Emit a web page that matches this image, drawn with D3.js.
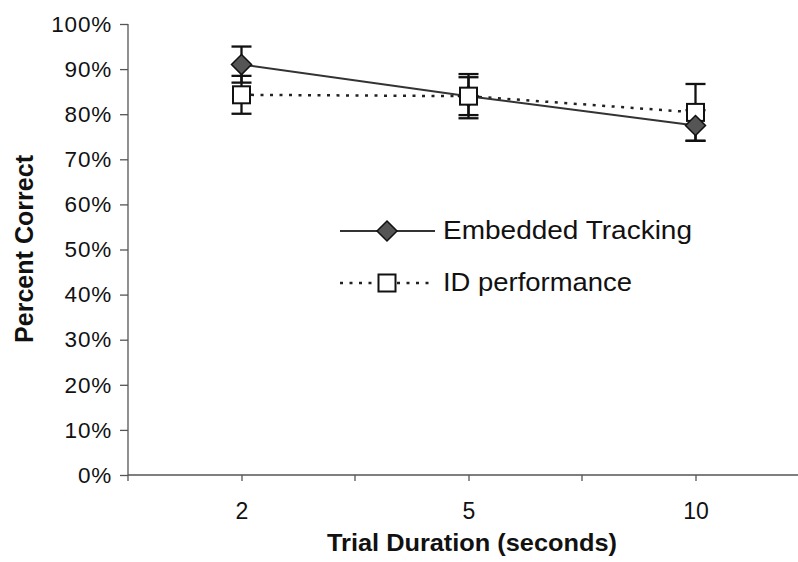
<!DOCTYPE html>
<html><head><meta charset="utf-8">
<script src="https://cdn.jsdelivr.net/npm/d3@7"></script>
<style>body{margin:0;background:#fff}svg{display:block}</style>
</head><body>
<script>
const categories = ["2", "5", "10"];
const embedded = [91.0, 84.0, 77.5];
const embeddedErr = [4.0, 4.9, 3.4];
const idPerf = [84.3, 84.0, 80.4];
const idErr = [4.2, 4.2, 6.3];
const yTicks = [0,10,20,30,40,50,60,70,80,90,100];

const W = 798, H = 562;
const svg = d3.select("body").append("svg").attr("width", W).attr("height", H);
const x = d3.scalePoint().domain(categories).range([128, 809]).padding(0.5);
const y = d3.scaleLinear().domain([0, 100]).range([475, 24]);
const font = "'Liberation Sans', Arial, sans-serif";

// y axis
const ya = svg.append("g").attr("transform", "translate(128,0)")
  .call(d3.axisLeft(y).tickValues(yTicks).tickFormat(d => d + "%").tickSize(8).tickPadding(8));
ya.select(".domain").attr("stroke", "#555").attr("stroke-width", 1.3).attr("d", "M0,24V475");
ya.selectAll(".tick line").attr("stroke", "#555").attr("stroke-width", 1.3);
ya.selectAll("text").attr("font-family", font).attr("font-size", 22.5)
  .attr("letter-spacing", 0.8).attr("fill", "#111");

// x axis
const xa = svg.append("g").attr("transform", "translate(0,475)")
  .call(d3.axisBottom(x).tickSize(6).tickPadding(22));
xa.select(".domain").attr("stroke", "#555").attr("stroke-width", 1.3).attr("d", "M128,0H798");
xa.selectAll(".tick line").attr("stroke", "#555").attr("stroke-width", 1.3);
xa.selectAll("text").attr("font-family", font).attr("font-size", 23).attr("fill", "#111");
const step = x.step();
xa.selectAll(".bt").data(d3.range(0, 4)).join("line").attr("class", "bt")
  .attr("x1", i => x(categories[0]) - step / 2 + i * step)
  .attr("x2", i => x(categories[0]) - step / 2 + i * step)
  .attr("y1", 0).attr("y2", 6).attr("stroke", "#555").attr("stroke-width", 1.3);

// titles
svg.append("text").attr("x", 472).attr("y", 551).attr("text-anchor", "middle")
  .attr("font-family", font).attr("font-weight", "bold").attr("font-size", 24)
  .attr("textLength", 290).attr("lengthAdjust", "spacingAndGlyphs")
  .attr("fill", "#111").text("Trial Duration (seconds)");
svg.append("text").attr("transform", "translate(33,249) rotate(-90)").attr("text-anchor", "middle")
  .attr("font-family", font).attr("font-weight", "bold").attr("font-size", 25)
  .attr("textLength", 188).attr("lengthAdjust", "spacingAndGlyphs")
  .attr("fill", "#111").text("Percent Correct");

const line = d3.line().x((d, i) => x(categories[i])).y(d => y(d));

// ID performance line (dotted)
svg.append("path").datum(idPerf).attr("d", line).attr("fill", "none")
  .attr("stroke", "#222").attr("stroke-width", 2.5).attr("stroke-dasharray", "3,6.5");
// Embedded line
svg.append("path").datum(embedded).attr("d", line).attr("fill", "none")
  .attr("stroke", "#333").attr("stroke-width", 2);

function errBars(vals, errs) {
  const g = svg.append("g").attr("stroke", "#111").attr("stroke-width", 2.3);
  vals.forEach((v, i) => {
    const cx = x(categories[i]);
    g.append("line").attr("x1", cx).attr("x2", cx).attr("y1", y(v + errs[i])).attr("y2", y(v - errs[i]));
    [v + errs[i], v - errs[i]].forEach(e => {
      g.append("line").attr("x1", cx - 10).attr("x2", cx + 10).attr("y1", y(e)).attr("y2", y(e));
    });
  });
}
errBars(embedded, embeddedErr);
errBars(idPerf, idErr);

function diamond(g, cx, cy) {
  g.append("path").attr("d", `M${cx},${cy - 10}L${cx + 10},${cy}L${cx},${cy + 10}L${cx - 10},${cy}Z`)
    .attr("fill", "#555").attr("stroke", "#111").attr("stroke-width", 1.5);
}
function square(g, cx, cy) {
  g.append("rect").attr("x", cx - 8.5).attr("y", cy - 8.5).attr("width", 17).attr("height", 17)
    .attr("fill", "#fff").attr("stroke", "#111").attr("stroke-width", 2);
}
const mk = svg.append("g");
embedded.forEach((v, i) => { if (v >= idPerf[i]) diamond(mk, x(categories[i]), y(v)); });
idPerf.forEach((v, i) => square(mk, x(categories[i]), y(v)));
embedded.forEach((v, i) => { if (v < idPerf[i]) diamond(mk, x(categories[i]), y(v)); });

// legend
const lg = svg.append("g");
lg.append("line").attr("x1", 340).attr("x2", 435).attr("y1", 231).attr("y2", 231)
  .attr("stroke", "#333").attr("stroke-width", 2);
diamond(lg, 387, 231);
lg.append("text").attr("x", 443).attr("y", 239).attr("font-family", font).attr("font-size", 26)
  .attr("textLength", 249).attr("lengthAdjust", "spacingAndGlyphs")
  .attr("fill", "#111").text("Embedded Tracking");
lg.append("line").attr("x1", 340).attr("x2", 435).attr("y1", 283).attr("y2", 283)
  .attr("stroke", "#222").attr("stroke-width", 2.5).attr("stroke-dasharray", "3,6.5");
square(lg, 387, 283);
lg.append("text").attr("x", 443).attr("y", 291).attr("font-family", font).attr("font-size", 26)
  .attr("textLength", 189).attr("lengthAdjust", "spacingAndGlyphs")
  .attr("fill", "#111").text("ID performance");
</script>
</body></html>
